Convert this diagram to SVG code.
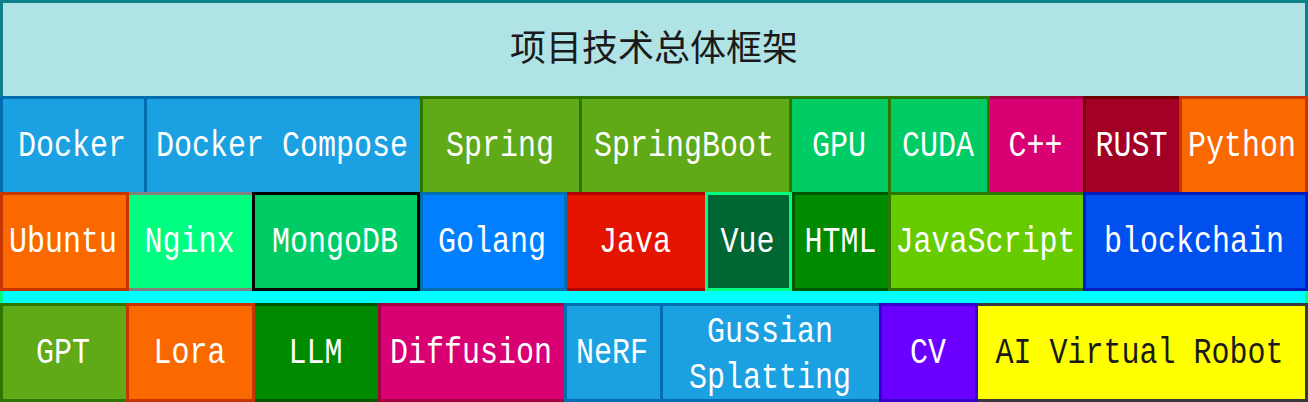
<svg xmlns="http://www.w3.org/2000/svg" width="1308" height="402" viewBox="0 0 1308 402">
<style>
rect{stroke-width:3}
.t{font-family:"Liberation Mono","DejaVu Sans Mono",monospace;font-size:30px;fill:#ffffff;text-anchor:middle}
.dk{fill:#1a1a1a}
.hd{fill:#b0e3e6;stroke:#0e8088}
.blue{fill:#1ba1e2;stroke:#006eaf}
.grn{fill:#60a917;stroke:#2d7600}
.emer{fill:#00cc66;stroke:#2d7600}
.mag{fill:#d80073;stroke:#a50040}
.crim{fill:#a20025;stroke:#6f0000}
.ora{fill:#fa6800;stroke:#c73500}
.ngx{fill:#00ff80;stroke:#808080}
.mdb{fill:#00cc66;stroke:#000000}
.go{fill:#007fff;stroke:#006eaf}
.red{fill:#e51400;stroke:#b20000}
.vue{fill:#006633;stroke:#00ff80}
.dg{fill:#008a00;stroke:#005700}
.lime{fill:#66cc00;stroke:#2d7600}
.cob{fill:#0050ef;stroke:#001dbc}
.vio{fill:#6a00ff;stroke:#3700cc}
.yel{fill:#ffff00;stroke:#36393d}
.band{fill:#00ffff;stroke:#00ff80}
</style>
<g id="header">
<rect class="hd" x="1.5" y="1.5" width="1305" height="96"/>
<text x="654" y="61" style="font-family:'Noto Sans CJK SC','Noto Sans',sans-serif;font-size:36px;fill:#1a1a1a;text-anchor:middle">项目技术总体框架</text>
</g>
<g id="band"><rect class="band" x="1.5" y="289.5" width="1305" height="15"/></g>
<g id="connectors"/>
<!-- Row 1 -->
<g id="docker"><rect class="blue" x="1.5" y="97.5" width="144" height="96"/><text class="t" transform="translate(72,156) scale(1,1.25)">Docker</text></g>
<g id="docker-compose"><rect class="blue" x="145.5" y="97.5" width="276" height="96"/><text class="t" transform="translate(282,156) scale(1,1.25)">Docker Compose</text></g>
<g id="spring"><rect class="grn" x="421.5" y="97.5" width="159" height="96"/><text class="t" transform="translate(500,156) scale(1,1.25)">Spring</text></g>
<g id="springboot"><rect class="grn" x="580.5" y="97.5" width="210" height="96"/><text class="t" transform="translate(684,156) scale(1,1.25)">SpringBoot</text></g>
<g id="gpu"><rect class="emer" x="790.5" y="97.5" width="99" height="96"/><text class="t" transform="translate(839,156) scale(1,1.25)">GPU</text></g>
<g id="cpp"><rect class="mag" x="988.5" y="97.5" width="96" height="96"/><text class="t" transform="translate(1035.5,156) scale(1,1.25)">C++</text></g>
<g id="cuda"><rect class="emer" x="889.5" y="97.5" width="99" height="96"/><text class="t" transform="translate(938,156) scale(1,1.25)">CUDA</text></g>
<g id="rust"><rect class="crim" x="1084.5" y="97.5" width="96" height="96"/><text class="t" transform="translate(1131.5,156) scale(1,1.25)">RUST</text></g>
<g id="python"><rect class="ora" x="1180.5" y="97.5" width="126" height="96"/><text class="t" transform="translate(1242,156) scale(1,1.25)">Python</text></g>
<!-- Row 2 -->
<g id="nginx"><rect class="ngx" x="127.5" y="193.5" width="126" height="96"/><text class="t" transform="translate(189.5,252) scale(1,1.25)">Nginx</text></g>
<g id="ubuntu"><rect class="ora" x="1.5" y="193.5" width="126" height="96"/><text class="t" transform="translate(63,252) scale(1,1.25)">Ubuntu</text></g>
<g id="mongodb"><rect class="mdb" x="253.5" y="193.5" width="165" height="96"/><text class="t" transform="translate(335,252) scale(1,1.25)">MongoDB</text></g>
<g id="java"><rect class="red" x="565.5" y="193.5" width="141" height="96"/><text class="t" transform="translate(635,252) scale(1,1.25)">Java</text></g>
<g id="golang"><rect class="go" x="421.5" y="193.5" width="144" height="96"/><text class="t" transform="translate(492,252) scale(1,1.25)">Golang</text></g>
<g id="vue"><rect class="vue" x="706.5" y="193.5" width="84" height="96"/><text class="t" transform="translate(747.5,252) scale(1,1.25)">Vue</text></g>
<g id="html"><rect class="dg" x="793.5" y="193.5" width="96" height="96"/><text class="t" transform="translate(840.5,252) scale(1,1.25)">HTML</text></g>
<g id="javascript"><rect class="lime" x="889.5" y="193.5" width="195" height="96"/><text class="t" transform="translate(985.5,252) scale(1,1.25)">JavaScript</text></g>
<g id="blockchain"><rect class="cob" x="1084.5" y="193.5" width="222" height="96"/><text class="t" transform="translate(1194,252) scale(1,1.25)">blockchain</text></g>
<!-- Row 3 -->
<g id="gpt"><rect class="grn" x="1.5" y="304.5" width="126" height="96"/><text class="t" transform="translate(63,363) scale(1,1.25)">GPT</text></g>
<g id="llm"><rect class="dg" x="253.5" y="304.5" width="126" height="96"/><text class="t" transform="translate(315.5,363) scale(1,1.25)">LLM</text></g>
<g id="lora"><rect class="ora" x="127.5" y="304.5" width="126" height="96"/><text class="t" transform="translate(189.5,363) scale(1,1.25)">Lora</text></g>
<g id="diffusion"><rect class="mag" x="379.5" y="304.5" width="186" height="96"/><text class="t" transform="translate(471,363) scale(1,1.25)">Diffusion</text></g>
<g id="nerf"><rect class="blue" x="565.5" y="304.5" width="96" height="96"/><text class="t" transform="translate(612,363) scale(1,1.25)">NeRF</text></g>
<g id="gussian-splatting"><rect class="blue" x="661.5" y="304.5" width="219" height="96"/><text class="t" transform="translate(770,342) scale(1,1.25)">Gussian</text><text class="t" transform="translate(770,387.5) scale(1,1.25)">Splatting</text></g>
<g id="ai-virtual-robot"><rect class="yel" x="976.5" y="304.5" width="330" height="96"/><text class="t dk" transform="translate(1139.5,363) scale(1,1.25)">AI Virtual Robot</text></g>
<g id="cv"><rect class="vio" x="880.5" y="304.5" width="96" height="96"/><text class="t" transform="translate(928,363) scale(1,1.25)">CV</text></g>
</svg>
